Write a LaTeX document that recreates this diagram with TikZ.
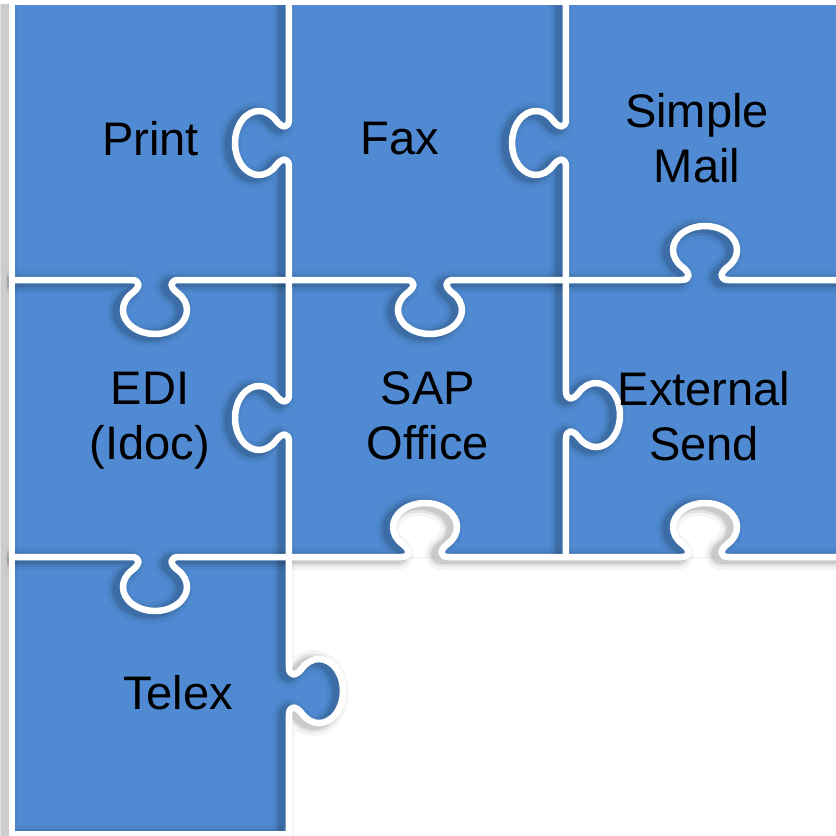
\documentclass[tikz,border=0pt]{standalone}
\usepackage{fontspec}
\setmainfont{Liberation Sans}
\usetikzlibrary{positioning, calc}

\definecolor{pieceblue}{HTML}{4F8AD2}
% knob centre x / y / rotation / edge start / edge end (local t)
\newcommand{\cutlist}{%
  2.89/6.93/90/-1.37/1.41,
  5.66/6.93/90/-1.37/1.41,
  1.55/5.56/180/-1.34/1.43,
  4.30/5.56/180/-1.36/1.41,
  7.05/5.56/0/-1.39/1.38,
  2.89/4.18/90/-1.39/1.38,
  5.66/4.21/-90/-1.35/1.42,
  4.25/2.79/0/-1.36/1.41,
  7.05/2.79/0/-1.39/1.38,
  1.55/2.79/180/-1.34/1.43,
  2.89/1.45/-90/-1.34/1.43}

\begin{document}
\begin{tikzpicture}[
  font=\fontsize{13.4}{15.6}\selectfont,
  cut/.style={white, line width=0.065cm, line cap=round, line join=round},
  knobcut/.style={insert path={
      .. controls (-0.14,0) and (-0.146,0.07) .. (-0.226,0.13)
      arc[start angle=225, end angle=-45, x radius=0.32, y radius=0.24]
      .. controls (0.146,0.07) and (0.14,0) .. (0.24,0)}},
  label/.style={align=center, text=black},
]
\useasboundingbox (0,0) rectangle (8.36,8.36);
\clip (0,0) rectangle (8.36,8.36);

% ---------------- pieces ----------------
\fill[pieceblue] (0.12,0.02) -- (0.12,8.34) -- (8.43,8.34) -- (8.43,2.79)
  -- (2.89,2.79) -- (2.89,0.02) -- cycle;

% open notches under SAP Office and External Send
\foreach \cx in {4.25, 7.05} {
  \begin{scope}[shift={(\cx,2.79)}]
    \fill[white] (-0.24,0) [knobcut] -- cycle;
  \end{scope}
}
% Telex tab sticking out
\begin{scope}[shift={(2.89,1.45)}, rotate=-90]
  \fill[pieceblue] (-0.24,0) [knobcut] -- cycle;
\end{scope}

% ---------------- soft shadows ----------------
\begin{scope}[shift={(-0.055,-0.02)}]
  \foreach \w/\op in {0.22/0.045, 0.15/0.07, 0.10/0.10} {
    \draw[black, opacity=\op, line width=\w cm]
      (0.12,8.34) -- (0.12,0.02) -- (2.89,0.02);
    \foreach \cx/\cy/\rot/\ta/\tb in \cutlist {
      \begin{scope}[shift={(\cx,\cy)}, rotate=\rot]
        \draw[black, opacity=\op, line width=\w cm]
          (\ta,0) -- (-0.24,0) [knobcut] -- (\tb,0);
      \end{scope}
    }
  }
\end{scope}

% ---------------- white cuts ----------------
\draw[cut] (0.12,0.02) -- (0.12,8.34) -- (8.43,8.34);
\draw[cut] (0.12,0.02) -- (2.89,0.02);
\foreach \cx/\cy/\rot/\ta/\tb in \cutlist {
  \begin{scope}[shift={(\cx,\cy)}, rotate=\rot]
    \draw[cut] (\ta,0) -- (-0.24,0) [knobcut] -- (\tb,0);
  \end{scope}
}

% ---------------- labels ----------------
\node[label] (print) at (1.505,6.97) {Print};
\node[label] (fax) at (4.00,6.97) {Fax};
\node[label] (simplemail) at (6.97,6.98) {Simple\\Mail};
\node[label] (edi) at (1.50,4.15) {EDI\\(Idoc)};
\node[label] (sapoffice) at (4.28,4.20) {SAP\\Office};
\node[label] (extsend) at (7.04,4.20) {External\\Send};
\node[label] (telex) at (1.78,1.43) {Telex};

\end{tikzpicture}
\end{document}
